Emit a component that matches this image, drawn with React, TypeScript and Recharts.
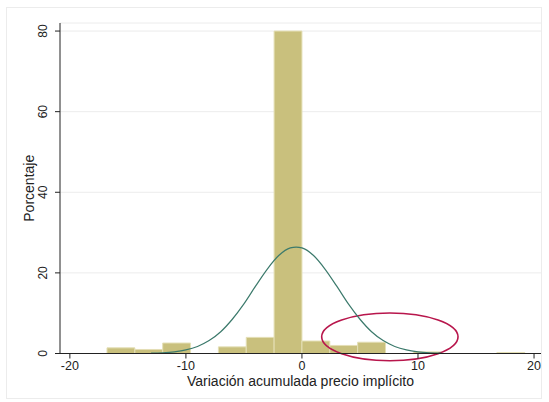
import React from 'react';
import {
  ComposedChart,
  Line,
  XAxis,
  YAxis,
  CartesianGrid,
  ReferenceArea,
} from 'recharts';

// Histogram bins (percent)
const binLow = [-16.8, -14.4, -12, -7.2, -4.8, -2.4, 0, 2.4, 4.8, 9.6, 16.8];
const binHigh = [-14.4, -12, -9.6, -4.8, -2.4, 0, 2.4, 4.8, 7.2, 12, 19.2];
const binPct = [1.4, 1.0, 2.6, 1.65, 4.0, 80, 3.1, 2.0, 2.8, 0.4, 0.25];

// Normal curve overlay
const curveX = [-13, -12, -11, -10, -9, -8, -7, -6, -5, -4, -3, -2, -1, -0.5, 0, 1, 2, 3, 4, 5, 6, 7, 8, 9, 10, 11, 12];
const curveY = [0.08, 0.18, 0.42, 0.89, 1.75, 3.2, 5.4, 8.5, 12.3, 16.7, 20.9, 24.3, 26.2, 26.4, 26.2, 24.3, 20.9, 16.7, 12.3, 8.5, 5.4, 3.2, 1.75, 0.89, 0.42, 0.18, 0.08];

// Highlight ellipse (data units)
const ellipseX = [1.7, 13.45];
const ellipseY = [-1.8, 10.05];

const xTicks = [-20, -10, 0, 10, 20];
const yTicks = [0, 20, 40, 60, 80];

const curveData = curveX.map((x, i) => ({ x, y: curveY[i] }));

const FONT = '"Liberation Sans", Arial, sans-serif';
const BAR = '#c9c07d';
const AXIS = '#222';

const YTick = (props: any) => {
  const { y, payload } = props;
  const cx = 47;
  return (
    <text
      x={cx}
      y={y}
      transform={`rotate(-90, ${cx}, ${y})`}
      textAnchor="middle"
      fontFamily={FONT}
      fontSize={12}
      fill={AXIS}
    >
      {payload.value}
    </text>
  );
};

const EllipseShape = (props: any) => {
  const { x, y, width, height } = props;
  return (
    <ellipse
      cx={x + width / 2}
      cy={y + height / 2}
      rx={Math.abs(width) / 2}
      ry={Math.abs(height) / 2}
      fill="none"
      stroke="#b8164c"
      strokeWidth={1.6}
    />
  );
};

export default function App() {
  return (
    <div style={{ position: 'absolute', left: 0, top: 0, width: 549, height: 402, background: '#fff' }}>
      <div
        style={{
          position: 'absolute',
          left: 6,
          top: 7,
          width: 536,
          height: 392,
          border: '1px solid #ececec',
          boxSizing: 'border-box',
        }}
      />
      <ComposedChart
        width={549}
        height={402}
        data={curveData}
        margin={{ top: 23, right: 8, bottom: 25.5, left: 0 }}
        style={{ position: 'absolute', left: 0, top: 0 }}
      >
        <CartesianGrid vertical={false} stroke="#ececec" />
        <XAxis
          type="number"
          dataKey="x"
          domain={[-20.85, 20.6]}
          ticks={xTicks}
          allowDataOverflow
          height={23}
          stroke={AXIS}
          tickSize={5}
          tickMargin={3}
          tick={{ fill: AXIS, fontSize: 12.5, fontFamily: FONT }}
          tickLine={{ stroke: AXIS }}
          label={{
            value: 'Variación acumulada precio implícito',
            position: 'bottom',
            offset: 0,
            style: { fill: AXIS, fontSize: 14, fontFamily: FONT },
          }}
        />
        <YAxis
          type="number"
          domain={[0, 82]}
          ticks={yTicks}
          allowDataOverflow
          width={60}
          stroke={AXIS}
          tickSize={5}
          tick={<YTick />}
          tickLine={{ stroke: AXIS }}
          label={{
            value: 'Porcentaje',
            angle: -90,
            position: 'insideLeft',
            offset: 28.7,
            style: { fill: AXIS, fontSize: 14, fontFamily: FONT, textAnchor: 'middle' },
          }}
        />
        {binPct.map((v, i) => (
          <ReferenceArea
            key={i}
            x1={binLow[i]}
            x2={binHigh[i]}
            y1={0}
            y2={v}
            fill={BAR}
            fillOpacity={1}
            stroke="#e4dfb6"
            strokeWidth={1}
            ifOverflow="visible"
          />
        ))}
        <Line
          type="monotone"
          dataKey="y"
          stroke="#3c7a6c"
          strokeWidth={1.2}
          dot={false}
          isAnimationActive={false}
        />
        <ReferenceArea
          x1={ellipseX[0]}
          x2={ellipseX[1]}
          y1={ellipseY[0]}
          y2={ellipseY[1]}
          ifOverflow="visible"
          shape={<EllipseShape />}
        />
      </ComposedChart>
    </div>
  );
}
